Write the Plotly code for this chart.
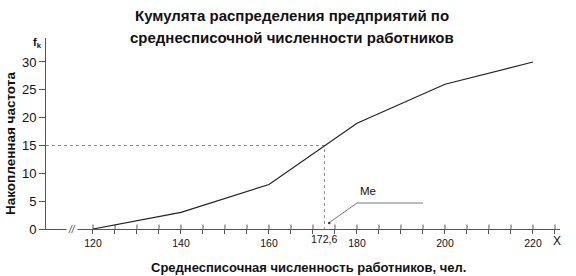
import plotly.graph_objects as go

# data
x_values = [120, 140, 160, 180, 200, 220]
cum_freq = [0, 3, 8, 19, 26, 30]
median_x = 172.6
median_y = 15
x_label_vals = [120, 140, 160, 180, 200, 220]
minor_tick_vals = [115, 120, 125, 130, 135, 140, 145, 150, 155, 160, 165, 170, 175, 180,
                   185, 190, 195, 200, 205, 210, 215, 220, 225]
y_tick_vals = [0, 5, 10, 15, 20, 25, 30]

W, H = 576, 276
L, R, T, B = 46, 16, 38, 47
PW, PH = W - L - R, H - T - B
X0, X1 = 109.32, 109.32 + PW / 4.4
Y0, Y1 = 0, PH / 5.567

def px(p):
    return (p - L) / PW

def py(p):
    return (H - B - p) / PH

FONT = "Liberation Sans, Arial, sans-serif"
TXT = "#111111"
AX = "#555555"

tick_text = [str(v) if v in x_label_vals else "" for v in minor_tick_vals]

fig = go.Figure()

# median dotted guides
fig.add_trace(go.Scatter(x=[X0, median_x, median_x], y=[median_y, median_y, 0],
                         mode="lines", line=dict(color="#8c8c8c", width=1, dash="dot"),
                         hoverinfo="skip", showlegend=False, cliponaxis=False))

# upper halves of the cross ticks (inside the plot area)
fig.add_trace(go.Scatter(
    x=[v for t in minor_tick_vals for v in (t, t, None)],
    y=[v for t in minor_tick_vals for v in (0, 0.8, None)],
    mode="lines", line=dict(color=AX, width=1), connectgaps=False,
    hoverinfo="skip", showlegend=False))

# cumulative line
fig.add_trace(go.Scatter(x=x_values, y=cum_freq, mode="lines",
                         line=dict(color="#222222", width=1.2),
                         showlegend=False, cliponaxis=False))

# Me leader line
fig.add_trace(go.Scatter(x=[173.9, 180.0, 195.0], y=[1.26, 4.67, 4.67], mode="lines",
                         line=dict(color="#666666", width=0.9),
                         hoverinfo="skip", showlegend=False, cliponaxis=False))
fig.add_trace(go.Scatter(x=[173.7], y=[1.1], mode="markers",
                         marker=dict(size=2.5, color="#333333"),
                         hoverinfo="skip", showlegend=False, cliponaxis=False))

fig.update_layout(
    width=W, height=H,
    margin=dict(l=L, r=R, t=T, b=B),
    paper_bgcolor="white", plot_bgcolor="white",
    font=dict(family=FONT, color=TXT),
    xaxis=dict(range=[X0, X1], showgrid=False, zeroline=False, showline=True,
               linecolor=AX, linewidth=1,
               tickmode="array", tickvals=minor_tick_vals, ticktext=tick_text,
               ticks="outside", ticklen=4, tickwidth=1, tickcolor=AX,
               tickfont=dict(size=10.5, color=TXT), fixedrange=True),
    yaxis=dict(range=[Y0, Y1], showgrid=False, zeroline=False, showline=True,
               linecolor=AX, linewidth=1, tickvals=y_tick_vals, ticks="outside",
               ticklen=6, tickcolor=AX, tickfont=dict(size=13, color=TXT), fixedrange=True),
)

ann = []
ann.append(dict(text="<b>Кумулята распределения предприятий по</b>", xref="paper", yref="paper",
                x=px(292), y=py(16), xanchor="center", yanchor="middle", showarrow=False,
                font=dict(size=15, color=TXT)))
ann.append(dict(text="<b>среднесписочной численности работников</b>", xref="paper", yref="paper",
                x=px(292), y=py(37), xanchor="center", yanchor="middle", showarrow=False,
                font=dict(size=15, color=TXT)))
ann.append(dict(text="<b>Накопленная частота</b>", xref="paper", yref="paper",
                x=px(10), y=py(144), xanchor="center", yanchor="middle", showarrow=False,
                textangle=-90, font=dict(size=13.5, color=TXT)))
ann.append(dict(text="<b>Среднесписочная численность работников, чел.</b>", xref="paper",
                yref="paper", x=px(308), y=py(267), xanchor="center", yanchor="middle",
                showarrow=False, font=dict(size=13, color=TXT)))
ann.append(dict(text="<b>f<sub>k</sub></b>", xref="paper", yref="paper",
                x=px(37), y=py(43), xanchor="center", yanchor="middle", showarrow=False,
                font=dict(size=11, color=TXT)))
ann.append(dict(text="172,6", xref="x", yref="paper", x=median_x, y=py(239),
                xanchor="center", yanchor="middle", showarrow=False,
                font=dict(size=10.5, color=TXT)))
ann.append(dict(text="X", xref="x", yref="paper", x=225.5, y=py(241), xanchor="center",
                yanchor="middle", showarrow=False, font=dict(size=12, color=TXT)))
ann.append(dict(text="Me", xref="x", yref="y", x=182.5, y=6.9, xanchor="center",
                yanchor="middle", showarrow=False, font=dict(size=11.5, color=TXT)))
ann.append(dict(text="<i>//</i>", xref="x", yref="y", x=115.3, y=0, xanchor="center",
                yanchor="middle", showarrow=False, font=dict(size=10, color="#444444"),
                bgcolor="white"))
fig.update_layout(annotations=ann)

fig.write_html("out.html")
